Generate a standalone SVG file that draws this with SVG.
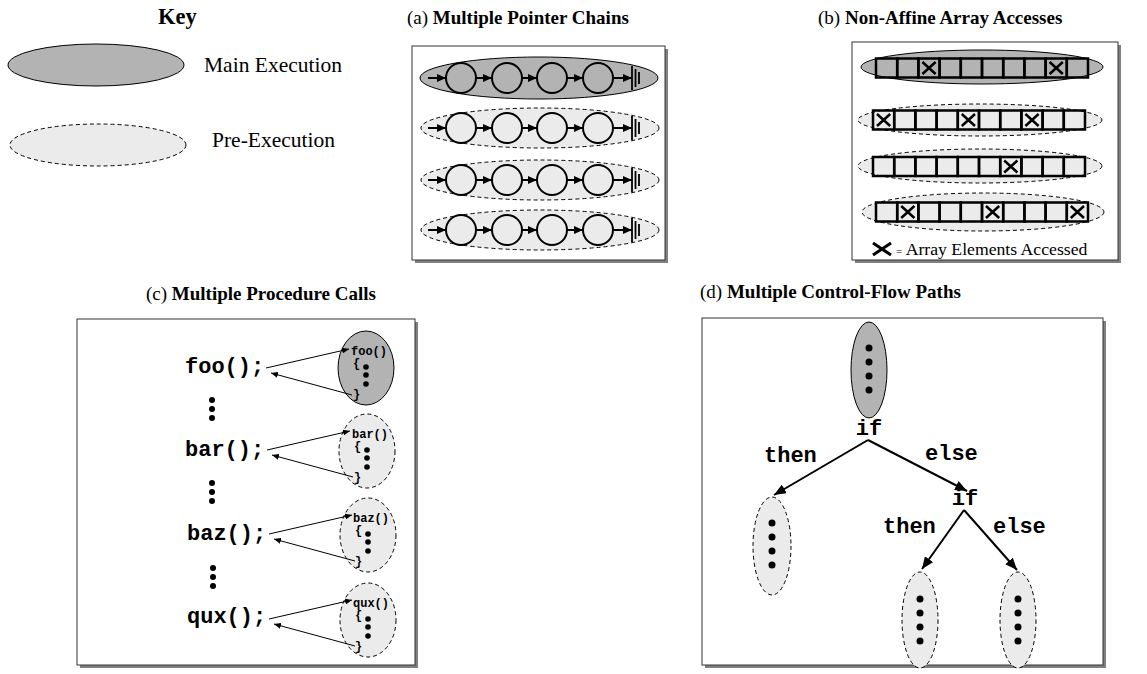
<svg xmlns="http://www.w3.org/2000/svg" width="1147" height="674" viewBox="0 0 1147 674">
<style>
.title{font-family:"Liberation Serif",serif;font-size:19px;fill:#000}
.b{font-weight:bold}
.lbl{font-family:"Liberation Serif",serif;font-size:21.5px;fill:#000}
.code{font-family:"Liberation Mono",monospace;font-weight:bold;font-size:22px;fill:#000}
.small{font-family:"Liberation Mono",monospace;font-weight:bold;font-size:12px;fill:#000}
.main{fill:#b3b3b3;stroke:#000;stroke-width:1}
.pre{fill:#ebebeb;stroke:#000;stroke-width:1;stroke-dasharray:4,3}
.frame{fill:#fff;stroke:#333;stroke-width:1}
.shadow{fill:#808080}
.circ{fill:none;stroke:#000;stroke-width:2}
.arr{fill:none;stroke:#000;stroke-width:2;marker-end:url(#ah)}
.thin{fill:none;stroke:#000;stroke-width:1;marker-end:url(#ahs)}
.tree{fill:none;stroke:#000;stroke-width:2;marker-end:url(#ahb)}
.gnd{stroke:#000;stroke-width:1.8}
.cell{fill:none;stroke:#000;stroke-width:2.5}
.xm{fill:none;stroke:#000;stroke-width:2.5}
.dot{fill:#000}
</style>
<defs>
<marker id="ah" markerUnits="userSpaceOnUse" markerWidth="9" markerHeight="8" refX="9" refY="4" orient="auto"><path d="M0,0 L9,4 L0,8 z" fill="#000"/></marker>
<marker id="ahs" markerUnits="userSpaceOnUse" markerWidth="7" markerHeight="6" refX="7" refY="3" orient="auto"><path d="M0,0 L7,3 L0,6 z" fill="#000"/></marker>
<marker id="ahb" markerUnits="userSpaceOnUse" markerWidth="12" markerHeight="10" refX="12" refY="5" orient="auto"><path d="M0,0 L12,5 L0,10 z" fill="#000"/></marker>
<g id="chain">
<circle class="circ" cx="461" cy="0" r="15"/>
<circle class="circ" cx="507" cy="0" r="15"/>
<circle class="circ" cx="552" cy="0" r="15"/>
<circle class="circ" cx="598" cy="0" r="15"/>
<line class="arr" x1="428" y1="0" x2="446" y2="0"/>
<line class="arr" x1="476" y1="0" x2="492" y2="0"/>
<line class="arr" x1="522" y1="0" x2="537" y2="0"/>
<line class="arr" x1="567" y1="0" x2="583" y2="0"/>
<line class="arr" x1="613" y1="0" x2="632" y2="0"/>
<line class="gnd" x1="632" y1="-12" x2="632" y2="12"/>
<line class="gnd" x1="635.5" y1="-9" x2="635.5" y2="9"/>
<line class="gnd" x1="639" y1="-6" x2="639" y2="6"/>
</g>
<path id="xmark" class="xm" d="M4,3.5 L17.2,15.5 M17.2,3.5 L4,15.5"/>
<g id="cells">
<rect class="cell" x="0" y="0" width="21.2" height="19"/>
<rect class="cell" x="21.2" y="0" width="21.2" height="19"/>
<rect class="cell" x="42.4" y="0" width="21.2" height="19"/>
<rect class="cell" x="63.6" y="0" width="21.2" height="19"/>
<rect class="cell" x="84.8" y="0" width="21.2" height="19"/>
<rect class="cell" x="106" y="0" width="21.2" height="19"/>
<rect class="cell" x="127.2" y="0" width="21.2" height="19"/>
<rect class="cell" x="148.4" y="0" width="21.2" height="19"/>
<rect class="cell" x="169.6" y="0" width="21.2" height="19"/>
<rect class="cell" x="190.8" y="0" width="21.2" height="19"/>
</g>
<g id="vd3"><circle class="dot" cx="0" cy="0" r="3"/><circle class="dot" cx="0" cy="9" r="3"/><circle class="dot" cx="0" cy="18" r="3"/></g>
<g id="vd4"><circle class="dot" cx="0" cy="0" r="3.5"/><circle class="dot" cx="0" cy="14" r="3.5"/><circle class="dot" cx="0" cy="28" r="3.5"/><circle class="dot" cx="0" cy="42" r="3.5"/></g>
</defs>
<rect width="1147" height="674" fill="#fff"/>

<g id="key">
<text class="title b" x="158" y="24" style="font-size:22.5px">Key</text>
<ellipse class="main" cx="96" cy="65" rx="88" ry="21"/>
<text class="lbl" x="204" y="72">Main Execution</text>
<ellipse class="pre" cx="98" cy="145" rx="88" ry="21"/>
<text class="lbl" x="212" y="147">Pre-Execution</text>
</g>

<g id="panel-a">
<text class="title" x="407" y="24">(a) <tspan class="b">Multiple Pointer Chains</tspan></text>
<rect class="shadow" x="415" y="49" width="253" height="214"/>
<rect class="frame" x="412" y="46" width="253" height="214"/>
<g id="a-row1"><ellipse class="main" cx="539" cy="78" rx="119" ry="21"/><use href="#chain" y="78"/></g>
<g id="a-row2"><ellipse class="pre" cx="540" cy="128" rx="119" ry="20"/><use href="#chain" y="128"/></g>
<g id="a-row3"><ellipse class="pre" cx="540" cy="180" rx="119" ry="20"/><use href="#chain" y="180"/></g>
<g id="a-row4"><ellipse class="pre" cx="540" cy="230" rx="119" ry="20"/><use href="#chain" y="230"/></g>
</g>

<g id="panel-b">
<text class="title" x="818" y="24">(b) <tspan class="b">Non-Affine Array Accesses</tspan></text>
<rect class="shadow" x="855" y="45" width="266" height="218"/>
<rect class="frame" x="852" y="42" width="266" height="218"/>
<g id="b-row1"><ellipse class="main" cx="982" cy="67" rx="121" ry="17"/><use href="#cells" x="876" y="58.5"/><use href="#xmark" x="918.4" y="58.5"/><use href="#xmark" x="1045.6" y="58.5"/></g>
<g id="b-row2"><ellipse class="pre" cx="980" cy="120" rx="122" ry="16"/><use href="#cells" x="873" y="110.5"/><use href="#xmark" x="873" y="110.5"/><use href="#xmark" x="957.8" y="110.5"/><use href="#xmark" x="1021.4" y="110.5"/></g>
<g id="b-row3"><ellipse class="pre" cx="980" cy="166" rx="122" ry="17"/><use href="#cells" x="873" y="157"/><use href="#xmark" x="1000.2" y="157"/></g>
<g id="b-row4"><ellipse class="pre" cx="983" cy="212" rx="121" ry="19"/><use href="#cells" x="876" y="202.5"/><use href="#xmark" x="897.2" y="202.5"/><use href="#xmark" x="982" y="202.5"/><use href="#xmark" x="1066.8" y="202.5"/></g>
<g id="b-legend">
<path class="xm" d="M873,243 L891,255 M891,243 L873,255" style="stroke-width:3"/>
<text class="lbl" x="896" y="255" style="font-size:17.7px"><tspan style="font-size:11px">=</tspan> Array Elements Accessed</text>
</g>
</g>

<g id="panel-c">
<text class="title" x="146" y="300">(c) <tspan class="b">Multiple Procedure Calls</tspan></text>
<rect class="shadow" x="80" y="322" width="338" height="346"/>
<rect class="frame" x="77" y="319" width="338" height="346"/>
<g id="c-foo">
<text class="code" x="185" y="373">foo();</text>
<ellipse class="main" cx="366" cy="368" rx="28" ry="37"/>
<text class="small" x="351" y="355">foo()</text>
<text class="small" x="353" y="367">{</text>
<circle class="dot" cx="366" cy="367" r="2.8"/><circle class="dot" cx="366" cy="375" r="2.8"/><circle class="dot" cx="366" cy="384" r="2.8"/>
<text class="small" x="353" y="398">}</text>
</g>
<g id="c-bar">
<text class="code" x="185" y="456">bar();</text>
<ellipse class="pre" cx="367" cy="451" rx="28" ry="37"/>
<text class="small" x="352" y="438">bar()</text>
<text class="small" x="354" y="450">{</text>
<circle class="dot" cx="367" cy="450" r="2.8"/><circle class="dot" cx="367" cy="458" r="2.8"/><circle class="dot" cx="367" cy="467" r="2.8"/>
<text class="small" x="354" y="481">}</text>
</g>
<g id="c-baz">
<text class="code" x="187" y="540">baz();</text>
<ellipse class="pre" cx="368" cy="535" rx="28" ry="37"/>
<text class="small" x="353" y="522">baz()</text>
<text class="small" x="355" y="534">{</text>
<circle class="dot" cx="368" cy="534" r="2.8"/><circle class="dot" cx="368" cy="542" r="2.8"/><circle class="dot" cx="368" cy="551" r="2.8"/>
<text class="small" x="355" y="565">}</text>
</g>
<g id="c-qux">
<text class="code" x="187" y="623">qux();</text>
<ellipse class="pre" cx="368" cy="620" rx="28" ry="37"/>
<text class="small" x="353" y="607">qux()</text>
<text class="small" x="355" y="619">{</text>
<circle class="dot" cx="368" cy="619" r="2.8"/><circle class="dot" cx="368" cy="627" r="2.8"/><circle class="dot" cx="368" cy="636" r="2.8"/>
<text class="small" x="355" y="650">}</text>
</g>
<g id="c-dots">
<use href="#vd3" x="212" y="400"/>
<use href="#vd3" x="212" y="483"/>
<use href="#vd3" x="213" y="568"/>
</g>
</g>

<g id="panel-d">
<text class="title" x="700" y="298">(d) <tspan class="b">Multiple Control-Flow Paths</tspan></text>
<rect class="shadow" x="705" y="321" width="401" height="347"/>
<rect class="frame" x="702" y="318" width="401" height="347"/>
<g id="d-top"><ellipse class="main" cx="869" cy="370" rx="18" ry="48"/><use href="#vd4" x="869" y="348"/></g>
<g id="d-left"><ellipse class="pre" cx="772" cy="546" rx="19" ry="49"/><use href="#vd4" x="772" y="523"/></g>
<g id="d-bl"><ellipse class="pre" cx="920" cy="620" rx="18" ry="48"/><use href="#vd4" x="920" y="599"/></g>
<g id="d-br"><ellipse class="pre" cx="1018" cy="620" rx="18" ry="48"/><use href="#vd4" x="1018" y="599"/></g>
<text class="code" x="869" y="435" text-anchor="middle">if</text>
<text class="code" x="965" y="505" text-anchor="middle">if</text>
<text class="code" x="764" y="462">then</text>
<text class="code" x="925" y="460">else</text>
<text class="code" x="883" y="533">then</text>
<text class="code" x="993" y="533">else</text>
</g>

<g id="connectors">
<line class="thin" x1="266" y1="368" x2="349" y2="349"/>
<line class="thin" x1="352" y1="395" x2="271" y2="373"/>
<line class="thin" x1="267" y1="450" x2="350" y2="431"/>
<line class="thin" x1="353" y1="477" x2="272" y2="455"/>
<line class="thin" x1="269" y1="534" x2="352" y2="515"/>
<line class="thin" x1="355" y1="561" x2="274" y2="539"/>
<line class="thin" x1="269" y1="619" x2="352" y2="600"/>
<line class="thin" x1="355" y1="646" x2="274" y2="624"/>
<line class="tree" x1="868" y1="440" x2="774" y2="495"/>
<line class="tree" x1="868" y1="440" x2="967" y2="491"/>
<line class="tree" x1="964" y1="510" x2="922" y2="569"/>
<line class="tree" x1="964" y1="510" x2="1017" y2="570"/>
</g>
</svg>
